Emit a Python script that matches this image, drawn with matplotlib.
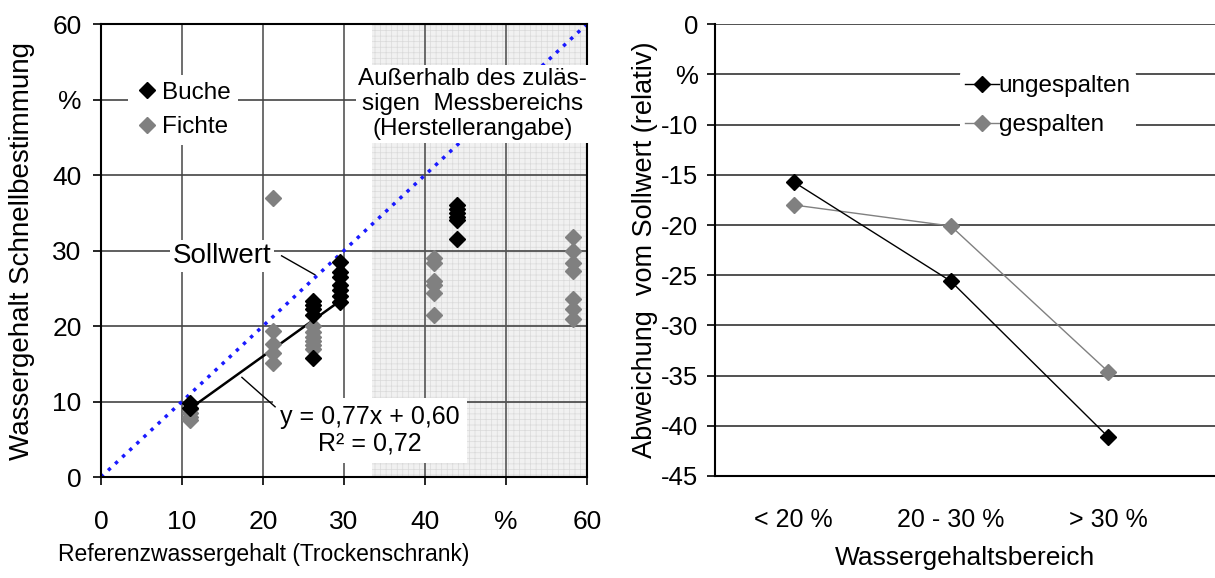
import matplotlib
matplotlib.use("Agg")
import matplotlib.pyplot as plt
import numpy as np

plt.rcParams['font.family'] = ['Liberation Sans', 'DejaVu Sans']
plt.rcParams['hatch.linewidth'] = 0.5
plt.rcParams['hatch.color'] = '#d8d8d8'

# left chart: reference vs. quick measurement
buche_x = [11.0, 11.0,
           26.2, 26.2, 26.2, 26.2, 26.2,
           29.5, 29.5, 29.5, 29.5, 29.5, 29.5, 29.5,
           44.0, 44.0, 44.0, 44.0, 44.0, 44.0]
buche_y = [9.8, 9.2,
           15.8, 21.5, 22.2, 22.8, 23.3,
           23.2, 24.0, 24.8, 25.5, 26.5, 27.2, 28.5,
           36.0, 35.5, 35.0, 34.5, 34.0, 31.5]
fichte_x = [11.0, 11.0, 11.0, 11.0,
            21.3, 21.3, 21.3, 21.3, 21.3,
            26.2, 26.2, 26.2, 26.2, 26.2, 26.2,
            41.1, 41.1, 41.1, 41.1, 41.1, 41.1,
            58.3, 58.3, 58.3, 58.3, 58.3, 58.3, 58.3]
fichte_y = [7.5, 8.0, 8.5, 9.0,
            37.0, 19.4, 17.6, 16.4, 15.1,
            20.0, 19.2, 18.5, 18.0, 17.5, 17.0,
            29.0, 28.3, 26.0, 25.4, 24.4, 21.4,
            31.8, 30.0, 28.3, 27.3, 23.6, 22.2, 20.9]
fit_x = [11.0, 29.5]
slope, intercept = 0.77, 0.60

# right chart: relative deviation
bereiche = ['< 20 %', '20 - 30 %', '> 30 %']
ungespalten = [-15.7, -25.6, -41.1]
gespalten = [-18.0, -20.1, -34.6]

fig = plt.figure(figsize=(12.15, 5.78), dpi=100)

# ---------- left ----------
ax = fig.add_axes([0.0831, 0.1747, 0.4, 0.7837])
ax.set_xlim(0, 60)
ax.set_ylim(0, 60)
ax.axvspan(33.5, 60, facecolor='#f1f1f1', edgecolor='#dadada', hatch='+++', linewidth=0, zorder=0)
for v in [10, 20, 30, 40, 50]:
    ax.axvline(v, color='#555555', lw=1.2, zorder=1)
    ax.axhline(v, color='#444444', lw=1.2, zorder=1)

ax.plot([0, 60], [0, 60], color='#1a1aff', ls=(0, (1, 1.8)), lw=2.5, zorder=2)
fx = np.array(fit_x)
ax.plot(fx, slope * fx + intercept, color='black', lw=1.8, zorder=3)
ax.plot(fichte_x, fichte_y, 'D', color='#808080', ms=8, mec='#808080', zorder=4, label='Fichte')
ax.plot(buche_x, buche_y, 'D', color='black', ms=8, zorder=5, label='Buche')

ax.set_xticks([0, 10, 20, 30, 40, 50, 60])
ax.set_xticklabels(['0', '10', '20', '30', '40', '%', '60'])
ax.set_yticks([0, 10, 20, 30, 40, 50, 60])
ax.set_yticklabels(['0', '10', '20', '30', '40', '%', '60'])
ax.tick_params(labelsize=19, length=6, width=1.2, direction='out', pad=8)
ax.xaxis.set_tick_params(pad=18)
for s in ax.spines.values():
    s.set_linewidth(1.5)
ax.set_xlabel('Referenzwassergehalt (Trockenschrank)', fontsize=16.5)
ax.xaxis.set_label_coords(0.335, -0.145)
ax.set_ylabel('Wassergehalt Schnellbestimmung', fontsize=20)
ax.yaxis.set_label_coords(-0.136, 0.5)

h, l = ax.get_legend_handles_labels()
leg = ax.legend(h[::-1], l[::-1], loc='upper left', bbox_to_anchor=(0.03, 0.915), fontsize=17.5,
                frameon=True, handletextpad=0.1, handlelength=1.0, borderpad=0.3, labelspacing=0.5)
leg.get_frame().set_edgecolor('none')
leg.get_frame().set_facecolor('white')
leg.get_frame().set_alpha(1)

box = dict(facecolor='white', edgecolor='none', pad=2)
ax.text(45.9, 49.4, 'Außerhalb des zuläs-\nsigen  Messbereichs\n(Herstellerangabe)', fontsize=17.5,
        ha='center', va='center', linespacing=1.2, bbox=box, zorder=6)
ax.text(14.9, 29.3, 'Sollwert', fontsize=20, ha='center', va='center', bbox=box, zorder=6)
ax.plot([22.3, 26.4], [29.3, 26.8], color='black', lw=1, zorder=6)
ax.text(33.2, 6.2, 'y = 0,77x + 0,60\nR² = 0,72', fontsize=18, ha='center', va='center',
        linespacing=1.15, bbox=dict(facecolor='white', edgecolor='none', pad=5), zorder=6)
ax.plot([17.4, 21.5], [13.2, 9.3], color='black', lw=1, zorder=6)

# ---------- right ----------
ax2 = fig.add_axes([0.5885, 0.1765, 0.4115, 0.7815])
xs = np.arange(len(bereiche))
ax2.set_xlim(-0.5, 2.68)
ax2.set_ylim(-45, 0)
for v in range(-45, 1, 5):
    ax2.axhline(v, color='#333333', lw=1.2, zorder=1)
ax2.plot(xs, ungespalten, color='black', lw=1, marker='D', ms=8, zorder=4, label='ungespalten')
ax2.plot(xs, gespalten, color='#808080', lw=1, marker='D', ms=8, zorder=3, label='gespalten')
ax2.set_yticks(range(-45, 1, 5))
ax2.set_yticklabels(['-45', '-40', '-35', '-30', '-25', '-20', '-15', '-10', '%', '0'])
ax2.set_xticks(xs)
ax2.set_xticklabels(bereiche)
ax2.tick_params(axis='y', labelsize=18.5, length=6, width=1.2, pad=6)
ax2.tick_params(axis='x', labelsize=18, length=0, pad=23)
ax2.spines['top'].set_visible(False)
ax2.spines['right'].set_visible(False)
ax2.spines['left'].set_linewidth(1.5)
ax2.spines['bottom'].set_linewidth(1.5)
ax2.set_xlabel('Wassergehaltsbereich', fontsize=19, labelpad=10)
ax2.set_ylabel('Abweichung  vom Sollwert (relativ)', fontsize=19.5)
ax2.yaxis.set_label_coords(-0.114, 0.5)
leg2 = ax2.legend(loc='upper left', bbox_to_anchor=(0.465, 0.925), fontsize=17.5, frameon=True,
                  handletextpad=0.0, handlelength=1.4, borderpad=0.2, labelspacing=0.7)
leg2.get_frame().set_edgecolor('none')
leg2.get_frame().set_facecolor('white')
leg2.get_frame().set_alpha(1)

fig.savefig('out.png', dpi=100)
